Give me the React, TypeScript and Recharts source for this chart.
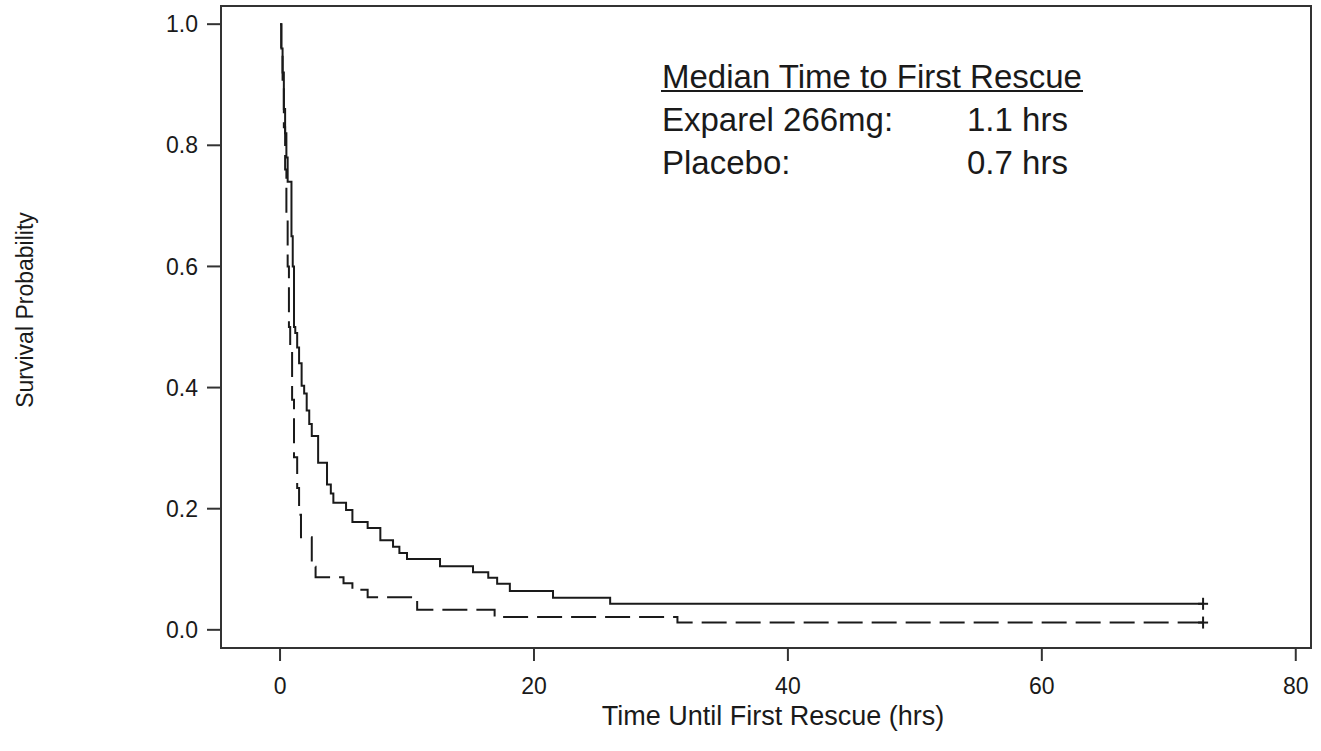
import React from 'react';
import { LineChart, Line, XAxis, YAxis, ReferenceArea, Customized } from 'recharts';

// Kaplan-Meier step points: time (hrs) and survival probability
const exparelTimes = [0, 0.1, 0.2, 0.3, 0.4, 0.5, 0.6, 0.9, 1.0, 1.1, 1.2, 1.35, 1.5, 1.7, 1.9, 2.1, 2.3, 2.5, 3.0, 3.7, 4.0, 4.2, 5.2, 5.7, 6.9, 7.9, 8.9, 9.4, 10.0, 12.6, 15.2, 16.4, 17.1, 18.1, 21.5, 26.0, 72.7];
const exparelSurvival = [1.0, 0.96, 0.92, 0.86, 0.82, 0.78, 0.74, 0.65, 0.6, 0.5, 0.49, 0.466, 0.44, 0.403, 0.39, 0.362, 0.34, 0.32, 0.276, 0.24, 0.225, 0.21, 0.198, 0.178, 0.168, 0.148, 0.137, 0.127, 0.117, 0.105, 0.095, 0.086, 0.076, 0.064, 0.053, 0.043, 0.043];

const placeboTimes = [0, 0.1, 0.2, 0.3, 0.4, 0.5, 0.6, 0.7, 0.8, 0.95, 1.1, 1.35, 1.5, 1.65, 2.5, 2.8, 5.0, 5.7, 6.9, 10.8, 16.9, 31.3, 72.7];
const placeboSurvival = [1.0, 0.96, 0.9, 0.83, 0.76, 0.68, 0.6, 0.5, 0.47, 0.38, 0.285, 0.234, 0.19, 0.153, 0.104, 0.087, 0.077, 0.066, 0.054, 0.033, 0.021, 0.012, 0.012];

const xTicks = [0, 20, 40, 60, 80];
const yTicks = [0, 0.2, 0.4, 0.6, 0.8, 1.0];

const medianTitle = 'Median Time to First Rescue';
const medianRows = [
  { group: 'Exparel 266mg:', value: '1.1 hrs' },
  { group: 'Placebo:', value: '0.7 hrs' },
];

const FONT = "'Liberation Sans', Arial, sans-serif";
const INK = '#1a1a1a';

const exparelData = exparelTimes.map((t, i) => ({ t, s: exparelSurvival[i] }));
const placeboData = placeboTimes.map((t, i) => ({ t, s: placeboSurvival[i] }));

// "+" censor mark at the last observation only
const censorDot = (lastIndex: number) => (props: any) => {
  const { cx, cy, index } = props;
  if (index !== lastIndex) return <g key={`c-${index}`} />;
  return (
    <g key={`c-${index}`} stroke={INK} strokeWidth={2}>
      <line x1={cx - 5} x2={cx + 5} y1={cy} y2={cy} />
      <line x1={cx} x2={cx} y1={cy - 6} y2={cy + 6} />
    </g>
  );
};

const Annotation = () => (
  <g fontFamily={FONT} fill={INK}>
    <text x={662} y={88} fontSize={33}>{medianTitle}</text>
    <line x1={661} x2={1083} y1={91} y2={91} stroke={INK} strokeWidth={2} />
    {medianRows.map((r, i) => (
      <g key={r.group}>
        <text x={662} y={131 + i * 43} fontSize={33}>{r.group}</text>
        <text x={967} y={131 + i * 43} fontSize={33}>{r.value}</text>
      </g>
    ))}
    <text x={773} y={725} fontSize={27} textAnchor="middle">Time Until First Rescue (hrs)</text>
    <text x={33} y={310} fontSize={23} textAnchor="middle" transform="rotate(-90 33 310)">Survival Probability</text>
  </g>
);

export default function App() {
  return (
    <div style={{ position: 'absolute', left: 0, top: 0, background: '#fff' }}>
      <LineChart width={1321} height={751} margin={{ top: 6, right: 10, left: 0, bottom: 0 }}>
        <XAxis
          type="number"
          dataKey="t"
          domain={[-4.65, 81.2]}
          ticks={xTicks}
          allowDataOverflow
          height={103}
          tickSize={13}
          tickMargin={17}
          axisLine={false}
          tickLine={{ stroke: '#333', strokeWidth: 2 }}
          tick={{ fontSize: 23, fill: INK, fontFamily: FONT }}
        />
        <YAxis
          type="number"
          dataKey="s"
          domain={[-0.03, 1.03]}
          ticks={yTicks}
          allowDataOverflow
          width={221}
          tickSize={14}
          tickMargin={9}
          axisLine={false}
          tickLine={{ stroke: '#333', strokeWidth: 2 }}
          tickFormatter={(v: number) => v.toFixed(1)}
          tick={{ fontSize: 23, fill: INK, fontFamily: FONT }}
        />
        <ReferenceArea x1={-4.65} x2={81.2} y1={-0.03} y2={1.03} fill="none" stroke="#333" strokeWidth={2} />
        <Line
          data={placeboData}
          dataKey="s"
          type="stepAfter"
          stroke={INK}
          strokeWidth={2}
          strokeDasharray="25 9"
          dot={censorDot(placeboData.length - 1)}
          activeDot={false}
          isAnimationActive={false}
        />
        <Line
          data={exparelData}
          dataKey="s"
          type="stepAfter"
          stroke={INK}
          strokeWidth={2}
          dot={censorDot(exparelData.length - 1)}
          activeDot={false}
          isAnimationActive={false}
        />
        <Customized component={Annotation} />
      </LineChart>
    </div>
  );
}
